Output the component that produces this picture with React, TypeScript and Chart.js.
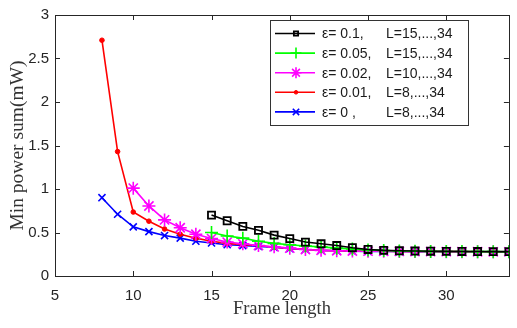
import React, { useEffect, useRef } from "react";
import { Chart, registerables } from "chart.js";
import { drawPoint } from "chart.js/helpers";

Chart.register(...registerables);

const framesFrom8 = [8, 9, 10, 11, 12, 13, 14, 15, 16, 17, 18, 19, 20, 21, 22, 23, 24, 25, 26, 27, 28, 29, 30, 31, 32, 33, 34];
const framesFrom10 = [10, 11, 12, 13, 14, 15, 16, 17, 18, 19, 20, 21, 22, 23, 24, 25, 26, 27, 28, 29, 30, 31, 32, 33, 34];
const framesFrom15 = [15, 16, 17, 18, 19, 20, 21, 22, 23, 24, 25, 26, 27, 28, 29, 30, 31, 32, 33, 34];

const eps01 = [0.70, 0.635, 0.57, 0.525, 0.47, 0.43, 0.39, 0.37, 0.35, 0.325, 0.305, 0.295, 0.29, 0.287, 0.285, 0.283, 0.282, 0.281, 0.28, 0.28];
const eps005 = [0.50, 0.46, 0.435, 0.40, 0.375, 0.36, 0.345, 0.335, 0.32, 0.31, 0.30, 0.293, 0.288, 0.285, 0.283, 0.282, 0.281, 0.28, 0.28, 0.279];
const eps002 = [1.01, 0.805, 0.645, 0.555, 0.48, 0.43, 0.39, 0.37, 0.35, 0.335, 0.32, 0.305, 0.295, 0.29, 0.287, 0.285, 0.284, 0.283, 0.282, 0.281, 0.28, 0.28, 0.279, 0.278, 0.278];
const eps001 = [2.71, 1.43, 0.735, 0.63, 0.54, 0.48, 0.435, 0.40, 0.375, 0.36, 0.35, 0.33, 0.32, 0.305, 0.295, 0.29, 0.287, 0.285, 0.284, 0.283, 0.282, 0.281, 0.28, 0.28, 0.279, 0.278, 0.278];
const eps0 = [0.90, 0.71, 0.565, 0.51, 0.465, 0.435, 0.40, 0.38, 0.36, 0.35, 0.34, 0.33, 0.315, 0.305, 0.295, 0.29, 0.285, 0.283, 0.282, 0.281, 0.28, 0.28, 0.279, 0.278, 0.278, 0.277, 0.277];

const epsLabels = ["\u03b5= 0.1,", "\u03b5= 0.05,", "\u03b5= 0.02,", "\u03b5= 0.01,", "\u03b5= 0 ,"];
const rangeLabels = ["L=15,...,34", "L=15,...,34", "L=10,...,34", "L=8,...,34", "L=8,...,34"];

const xTicks = [5, 10, 15, 20, 25, 30];
const yTicks = [0, 0.5, 1, 1.5, 2, 2.5, 3];

const pts = (xs: number[], ys: number[]) => xs.map((x, i) => ({ x, y: ys[i] }));

const styles = [
  { color: "#000000", pointStyle: "rect", radius: 5, fill: false, bw: 1.8, legendRadius: 3 },
  { color: "#00ff00", pointStyle: "cross", radius: 6.5, fill: false, bw: 1.6, legendRadius: 5.5 },
  { color: "#ff00ff", pointStyle: "star", radius: 6.5, fill: false, bw: 1.6, legendRadius: 5.5 },
  { color: "#ff0000", pointStyle: "circle", radius: 2.3, fill: true, bw: 1, legendRadius: 1.8 },
  { color: "#0000ff", pointStyle: "crossRot", radius: 5, fill: false, bw: 1.6, legendRadius: 4.5 },
];

const frameBoxPlugin = {
  id: "frameBox",
  afterDraw(chart: any) {
    const { ctx, chartArea } = chart;
    const { left, right, top, bottom } = chartArea;
    const xs = chart.scales.x;
    const ys = chart.scales.y;
    ctx.save();
    ctx.strokeStyle = "#262626";
    ctx.lineWidth = 1;
    ctx.strokeRect(Math.round(left) + 0.5, Math.round(top) + 0.5, Math.round(right - left), Math.round(bottom - top));
    const tl = 5;
    ctx.beginPath();
    xTicks.forEach((v) => {
      const px = Math.round(xs.getPixelForValue(v)) + 0.5;
      ctx.moveTo(px, bottom);
      ctx.lineTo(px, bottom - tl);
      ctx.moveTo(px, top);
      ctx.lineTo(px, top + tl);
    });
    yTicks.forEach((v) => {
      const py = Math.round(ys.getPixelForValue(v)) + 0.5;
      ctx.moveTo(left, py);
      ctx.lineTo(left + tl, py);
      ctx.moveTo(right, py);
      ctx.lineTo(right - tl, py);
    });
    ctx.stroke();

    // legend
    const lx = 270.5, ly = 20.5, lw = 198, lh = 105;
    ctx.fillStyle = "#ffffff";
    ctx.fillRect(lx, ly, lw, lh);
    ctx.strokeStyle = "#333333";
    ctx.strokeRect(lx, ly, lw, lh);
    ctx.font = "14px 'Liberation Sans', Arial, sans-serif";
    ctx.textBaseline = "middle";
    ctx.textAlign = "left";
    styles.forEach((s, i) => {
      const cy = 33.5 + i * 19.6;
      ctx.strokeStyle = s.color;
      ctx.lineWidth = 1.6;
      ctx.beginPath();
      ctx.moveTo(275, cy);
      ctx.lineTo(315, cy);
      ctx.stroke();
      ctx.fillStyle = s.fill ? s.color : "rgba(0,0,0,0)";
      ctx.lineWidth = s.bw;
      drawPoint(ctx, { pointStyle: s.pointStyle as any, radius: s.legendRadius, borderWidth: s.bw, rotation: 0 } as any, 296, cy);
      ctx.fillStyle = "#1a1a1a";
      ctx.fillText(epsLabels[i], 322, cy + 1);
      ctx.fillText(rangeLabels[i], 386, cy + 1);
    });
    ctx.restore();
  },
};

export default function App() {
  const ref = useRef<HTMLCanvasElement>(null);
  useEffect(() => {
    if (!ref.current) return;
    const series = [
      pts(framesFrom15, eps01),
      pts(framesFrom15, eps005),
      pts(framesFrom10, eps002),
      pts(framesFrom8, eps001),
      pts(framesFrom8, eps0),
    ];
    const chart = new Chart(ref.current, {
      type: "line",
      data: {
        datasets: series.map((data, i) => ({
          label: epsLabels[i] + " " + rangeLabels[i],
          data,
          borderColor: styles[i].color,
          backgroundColor: styles[i].fill ? styles[i].color : "rgba(0,0,0,0)",
          pointBorderColor: styles[i].color,
          pointBackgroundColor: styles[i].fill ? styles[i].color : "rgba(0,0,0,0)",
          pointStyle: styles[i].pointStyle as any,
          pointRadius: styles[i].radius,
          pointBorderWidth: styles[i].bw,
          borderWidth: 1.6,
          tension: 0,
          fill: false,
        })),
      },
      options: {
        animation: false,
        responsive: false,
        devicePixelRatio: 1,
        layout: { padding: { left: 0, right: 2, top: 5, bottom: 0 } },
        plugins: { legend: { display: false }, tooltip: { enabled: false } },
        scales: {
          x: {
            type: "linear",
            min: 5,
            max: 34,
            grid: { display: false, drawTicks: false },
            border: { display: false },
            afterBuildTicks: (s: any) => {
              s.ticks = xTicks.map((v) => ({ value: v }));
            },
            afterFit: (s: any) => {
              s.height = 52;
            },
            ticks: {
              padding: 11,
              color: "#262626",
              font: { family: "'Liberation Sans', Arial, sans-serif", size: 15 },
              maxRotation: 0,
              callback: (v: any) => String(v),
            },
            title: {
              display: true,
              text: "Frame length",
              color: "#333333",
              font: { family: "'Liberation Serif', 'DejaVu Serif', serif", size: 18.5 },
              padding: { top: 0, bottom: 8 },
            },
          },
          y: {
            type: "linear",
            min: 0,
            max: 3,
            grid: { display: false, drawTicks: false },
            border: { display: false },
            afterBuildTicks: (s: any) => {
              s.ticks = yTicks.map((v) => ({ value: v }));
            },
            afterFit: (s: any) => {
              s.width = 55;
            },
            ticks: {
              padding: 6,
              color: "#262626",
              font: { family: "'Liberation Sans', Arial, sans-serif", size: 15 },
              callback: (v: any) => String(v),
            },
            title: {
              display: true,
              text: "Min power sum(mW)",
              color: "#333333",
              font: { family: "'Liberation Serif', 'DejaVu Serif', serif", size: 19.5 },
              padding: { top: 6, bottom: 0 },
            },
          },
        },
      },
      plugins: [frameBoxPlugin],
    });
    return () => chart.destroy();
  }, []);
  return (
    <div style={{ position: "fixed", left: 0, top: 0, width: 517, height: 328, background: "#fff" }}>
      <canvas ref={ref} width={517} height={328} style={{ width: 517, height: 328, display: "block" }} />
    </div>
  );
}
